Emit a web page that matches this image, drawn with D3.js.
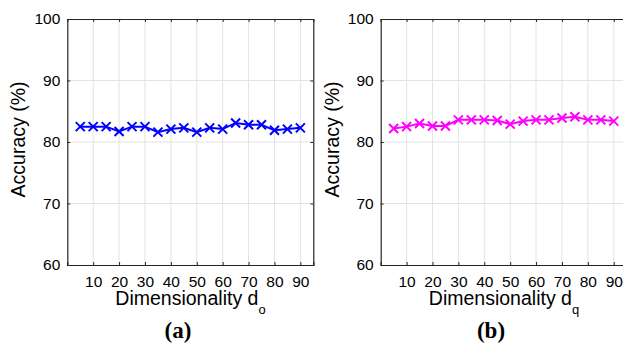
<!DOCTYPE html>
<html>
<head>
<meta charset="utf-8">
<script src="https://cdn.jsdelivr.net/npm/d3@7"></script>
<style>
  body { margin: 0; background: #fff; }
  svg { display: block; font-family: "Liberation Sans", Arial, sans-serif; }
</style>
</head>
<body>
<div id="chart"></div>
<script>
const dims = [5, 10, 15, 20, 25, 30, 35, 40, 45, 50, 55, 60, 65, 70, 75, 80, 85, 90];
const accA = [82.5, 82.5, 82.5, 81.7, 82.5, 82.5, 81.6, 82.1, 82.3, 81.6, 82.3, 82.1, 83.1, 82.8, 82.8, 81.9, 82.1, 82.3];
const accB = [82.2, 82.5, 83.0, 82.6, 82.6, 83.6, 83.6, 83.6, 83.5, 82.9, 83.4, 83.6, 83.6, 83.9, 84.1, 83.6, 83.6, 83.4];
const xTicks = [10, 20, 30, 40, 50, 60, 70, 80, 90];
const yTicks = [60, 70, 80, 90, 100];

const W = 623, H = 344;
const svg = d3.select("#chart").append("svg")
    .attr("width", W)
    .attr("height", H);

const panels = [
  {left: 67.3, values: accA, color: "#0000ff", sub: "o", tag: "(a)", tagX: 178, labelX: 190.5, yLabelX: 25},
  {left: 380.7, values: accB, color: "#ff00ff", sub: "q", tag: "(b)", tagX: 491, labelX: 504, yLabelX: 339}
];

const plotTop = 19, plotBottom = 265, plotW = 246;

panels.forEach(p => {
    const x = d3.scaleLinear().domain([0, 95]).range([p.left, p.left + plotW]);
    const y = d3.scaleLinear().domain([60, 100]).range([plotBottom, plotTop]);
    const g = svg.append("g");

    // grid
    g.append("g").selectAll("line").data(xTicks).join("line")
        .attr("x1", d => x(d)).attr("x2", d => x(d))
        .attr("y1", plotTop).attr("y2", plotBottom)
        .attr("stroke", "#e3e3e3").attr("stroke-width", 1);
    g.append("g").selectAll("line").data(yTicks.slice(1, -1)).join("line")
        .attr("x1", x(0)).attr("x2", x(95))
        .attr("y1", d => y(d)).attr("y2", d => y(d))
        .attr("stroke", "#e3e3e3").attr("stroke-width", 1);

    // axes with inward ticks
    const xAxis = d3.axisBottom(x).tickValues(xTicks).tickSize(-3).tickPadding(11);
    const xAxisTop = d3.axisTop(x).tickValues(xTicks).tickSize(-3).tickFormat("");
    const yAxis = d3.axisLeft(y).tickValues(yTicks).tickSize(-3).tickPadding(7);
    const yAxisRight = d3.axisRight(y).tickValues(yTicks).tickSize(-3).tickFormat("");

    g.append("g").attr("transform", `translate(0,${plotBottom})`).call(xAxis);
    g.append("g").attr("transform", `translate(0,${plotTop})`).call(xAxisTop);
    g.append("g").attr("transform", `translate(${x(0)},0)`).call(yAxis);
    g.append("g").attr("transform", `translate(${x(95)},0)`).call(yAxisRight);

    g.selectAll(".domain").attr("stroke", "#262626").attr("stroke-width", 1.2);
    g.selectAll(".tick line").attr("stroke", "#262626");
    g.selectAll(".tick text")
        .attr("fill", "#000")
        .style("font-size", "15.5px")
        .style("font-family", "'Liberation Sans', Arial, sans-serif");

    // series line
    const line = d3.line().x((d, i) => x(dims[i])).y(d => y(d));
    g.append("path")
        .datum(p.values)
        .attr("fill", "none")
        .attr("stroke", p.color)
        .attr("stroke-width", 2)
        .attr("d", line);

    // x markers
    const s = 4.5;
    g.append("g").selectAll("path").data(p.values).join("path")
        .attr("transform", (d, i) => `translate(${x(dims[i])},${y(d)})`)
        .attr("d", `M${-s},${-s}L${s},${s}M${-s},${s}L${s},${-s}`)
        .attr("stroke", p.color)
        .attr("stroke-width", 2)
        .attr("fill", "none");

    // axis labels
    const xl = g.append("text")
        .attr("x", p.labelX).attr("y", 305)
        .attr("text-anchor", "middle")
        .style("font-size", "19.5px");
    xl.append("tspan").text("Dimensionality d");
    xl.append("tspan").attr("dy", 9).style("font-size", "13px").text(p.sub);

    g.append("text")
        .attr("transform", `translate(${p.yLabelX},${(plotTop + plotBottom) / 2 - 2.5}) rotate(-90)`)
        .attr("text-anchor", "middle")
        .style("font-size", "19.5px")
        .text("Accuracy (%)");

    g.append("text")
        .attr("x", p.tagX).attr("y", 338)
        .attr("text-anchor", "middle")
        .style("font-family", "'Liberation Serif', 'Times New Roman', serif")
        .style("font-weight", "bold")
        .style("font-size", "23px")
        .text(p.tag);
});
</script>
</body>
</html>
